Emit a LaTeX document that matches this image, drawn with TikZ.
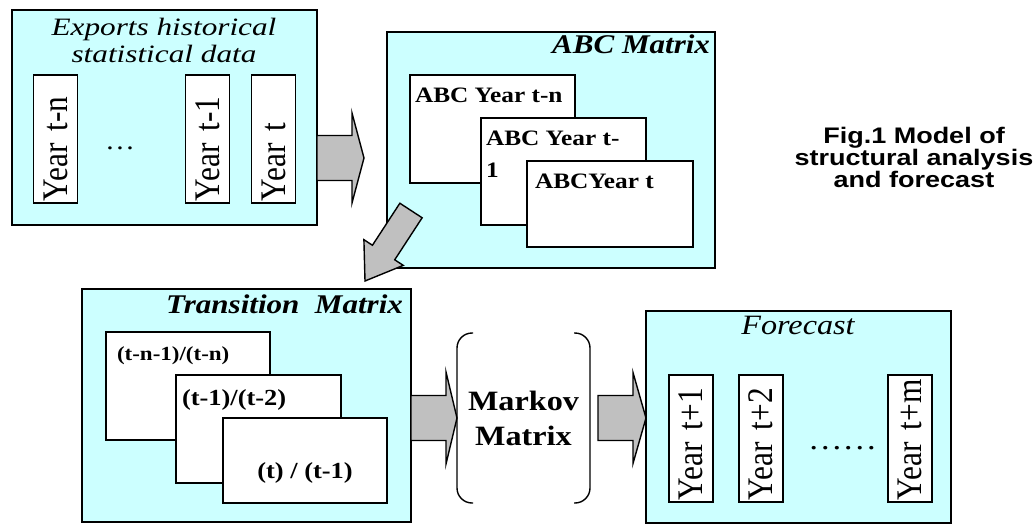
\documentclass[tikz,border=0pt]{standalone}
\usepackage{fontspec}
\setmainfont{Liberation Serif}[FakeStretch=1.15]
\newfontfamily\widefont{Liberation Serif}[FakeStretch=1.25]
\newfontfamily\yearfont{Liberation Serif}[FakeStretch=0.87]
\newfontfamily\capfont{Liberation Sans}[FakeStretch=1.2]
\usetikzlibrary{positioning,calc}
\definecolor{panelcyan}{HTML}{CCFFFF}
\definecolor{arrowgray}{HTML}{C0C0C0}
% block arrow: tail, tip, half shaft, half head, head length
\newcommand{\blockarrow}[5]{%
  \coordinate (hb) at ($(#2)!#5!(#1)$);
  \draw[blockarr] ($(#1)!#3!90:(#2)$) -- ($(hb)!#3!90:(#2)$) -- ($(hb)!#4!90:(#2)$) -- (#2)
    -- ($(hb)!#4!-90:(#2)$) -- ($(hb)!#3!-90:(#2)$) -- ($(#1)!#3!-90:(#2)$) -- cycle;
}

\begin{document}
\begin{tikzpicture}[x=1pt,y=-1pt,
    panel/.style={draw,fill=panelcyan,line width=1.8pt,anchor=north west,outer sep=0pt,inner sep=0pt},
    sheet/.style={draw,fill=white,line width=1.4pt,anchor=north west,outer sep=0pt,inner sep=0pt},
    lbl/.style={inner sep=0pt,outer sep=0pt},
    sublbl/.style={lbl,font=\fontsize{22}{32}\selectfont\bfseries,align=left,anchor=base west},
    ttl/.style={lbl,font=\fontsize{27}{27}\selectfont\bfseries\itshape},
    yearbox/.style={draw,fill=white,line width=1.4pt,rotate=90,inner xsep=2pt,inner ysep=0pt,
      minimum height=44pt,text width=124pt,align=left,font=\yearfont\fontsize{36}{36}\selectfont},
    blockarr/.style={draw,fill=arrowgray,line width=1.4pt,line join=miter}]
    \useasboundingbox (0,0) rectangle (1036,525);

    % historical data
    \node[panel,minimum width=305pt,minimum height=215pt] (hist) at (12,10) {};
    \node[lbl,font=\widefont\fontsize{25}{27}\selectfont\itshape,align=center,anchor=base] (histT) at (164,62) {Exports historical\\statistical data};
    \node[yearbox] (ytn) at (55.5,139) {Year t-n};
    \node[yearbox] (ytm1) at (207.5,139) {Year t-1};
    \node[yearbox] (yt) at (273.5,139) {Year t};
    \node[lbl,font=\fontsize{26}{26}\selectfont,anchor=base] (hdots) at (120,149) {…};

    % ABC matrix
    \node[panel,minimum width=328pt,minimum height=236pt] (abc) at (387,32) {};
    \node[ttl,anchor=base east] (abcT) at (710,53) {ABC Matrix};
    \node[sheet,minimum width=165pt,minimum height=108pt] (abcA) at (410,75) {};
    \node[sublbl] (abcAt) at (415,102) {ABC Year t-n};
    \node[sheet,minimum width=165pt,minimum height=107pt] (abcB) at (481,118) {};
    \node[sublbl] (abcBt) at (486,177) {ABC Year t-\\1};
    \node[sheet,minimum width=166pt,minimum height=86pt] (abcC) at (527,161) {};
    \node[sublbl] (abcCt) at (535,188) {ABCYear t};

    \coordinate (a1t) at (364,158);
    \coordinate (a1s) at (hist.east |- a1t);
    \blockarrow{a1s}{a1t}{22.5pt}{45pt}{12pt}
    \coordinate (a2s) at (411,210.5);
    \coordinate (a2t) at (365,281);
    \blockarrow{a2s}{a2t}{13.3pt}{23.5pt}{34pt}

    % transition matrix
    \node[panel,minimum width=329pt,minimum height=233pt] (trans) at (82,289) {};
    \node[ttl,anchor=base east] (transT) at (403,313) {Transition\ \ Matrix};
    \node[sheet,minimum width=164pt,minimum height=108pt] (trA) at (106,332) {};
    \node[sublbl,font=\fontsize{20}{20}\selectfont\bfseries] (trAt) at (117,360) {(t-n-1)/(t-n)};
    \node[sheet,minimum width=165pt,minimum height=108pt] (trB) at (176,375) {};
    \node[sublbl,font=\fontsize{23}{23}\selectfont\bfseries] (trBt) at (182,405) {(t-1)/(t-2)};
    \node[sheet,minimum width=164pt,minimum height=85pt] (trC) at (223,418) {};
    \node[sublbl,font=\fontsize{23}{23}\selectfont\bfseries,anchor=base] (trCt) at (305,478) {(t) / (t-1)};

    % markov matrix
    \node[lbl,minimum width=133pt,minimum height=170pt,align=center,font=\fontsize{28}{35}\selectfont\bfseries] (mk) at (523.5,418) {Markov\\Matrix};
    \draw[line width=1.4pt,rounded corners=15pt] ([xshift=16pt]mk.north west) -- (mk.north west) -- (mk.south west) -- ([xshift=16pt]mk.south west);
    \draw[line width=1.4pt,rounded corners=15pt] ([xshift=-16pt]mk.north east) -- (mk.north east) -- (mk.south east) -- ([xshift=-16pt]mk.south east);

    % forecast
    \node[panel,minimum width=305pt,minimum height=212pt] (fc) at (646,311) {};
    \node[lbl,font=\fontsize{28}{28}\selectfont\itshape,anchor=base] (fcT) at (798,334) {Forecast};
    \node[yearbox,text width=123pt] (yp1) at (691,438.5) {Year t+1};
    \node[yearbox,text width=123pt] (yp2) at (761,438.5) {Year t+2};
    \node[yearbox,text width=123pt] (ypm) at (910,438.5) {Year t+m};
    \node[lbl,font=\fontsize{30}{30}\selectfont,anchor=base] (fdots) at (842.5,449) {……};

    \coordinate (a3s) at (trans.east |- mk.west);
    \blockarrow{a3s}{mk.west}{22.5pt}{46pt}{11pt}
    \coordinate (a4s) at ([xshift=8pt]mk.east);
    \coordinate (a4t) at (fc.west |- mk.east);
    \blockarrow{a4s}{a4t}{22.5pt}{45.5pt}{13pt}

    \node[lbl,font=\capfont\bfseries\fontsize{22.5}{22}\selectfont,align=center,anchor=base] (cap) at (914,187) {Fig.1 Model of\\structural analysis\\and forecast};
\end{tikzpicture}
\end{document}
